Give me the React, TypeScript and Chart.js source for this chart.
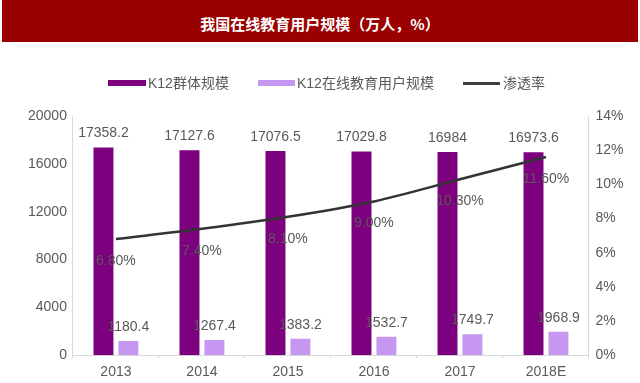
import React, { useEffect, useRef } from "react";
import { Chart, registerables } from "chart.js";

Chart.register(...registerables);

const categories = ["2013", "2014", "2015", "2016", "2017", "2018E"];
const k12Group = [17358.2, 17127.6, 17076.5, 17029.8, 16984, 16973.6];
const onlineUsers = [1180.4, 1267.4, 1383.2, 1532.7, 1749.7, 1968.9];
const penetration = [6.8, 7.4, 8.1, 9.0, 10.3, 11.6];
const leftTicks = [0, 4000, 8000, 12000, 16000, 20000];
const rightTicks = [0, 2, 4, 6, 8, 10, 12, 14];

const title = "我国在线教育用户规模（万人，%）";
const seriesNames = ["K12群体规模", "K12在线教育用户规模", "渗透率"];
const colors = ["#7d007f", "#c597f0", "#333333"];

const FONT = "'Liberation Sans', 'Noto Sans CJK SC', Arial, sans-serif";
const TEXT = "#595959";

const labelPlugin = {
  id: "valueLabels",
  afterDatasetsDraw(chart: any) {
    const ctx = chart.ctx;
    ctx.save();
    ctx.font = `14px ${FONT}`;
    ctx.fillStyle = TEXT;
    ctx.textAlign = "center";
    chart.data.datasets.forEach((ds: any, i: number) => {
      const meta = chart.getDatasetMeta(i);
      meta.data.forEach((el: any, j: number) => {
        const v = ds.data[j];
        if (ds.type === "line") {
          ctx.textBaseline = "middle";
          ctx.fillText(v.toFixed(2) + "%", el.x, el.y + 22);
        } else {
          ctx.textBaseline = "bottom";
          ctx.fillText(String(v), el.x, el.y - 7);
        }
      });
    });
    ctx.restore();
  },
};

export default function App() {
  const ref = useRef<HTMLCanvasElement>(null);
  useEffect(() => {
    if (!ref.current) return;
    const chart = new Chart(ref.current, {
      type: "bar",
      data: {
        labels: categories,
        datasets: [
          {
            type: "line",
            label: seriesNames[2],
            data: penetration,
            borderColor: colors[2],
            backgroundColor: colors[2],
            borderWidth: 2.5,
            pointRadius: 0,
            yAxisID: "y1",
            order: 0,
            cubicInterpolationMode: "monotone",
          } as any,
          {
            type: "bar",
            label: seriesNames[0],
            data: k12Group,
            backgroundColor: colors[0],
            yAxisID: "y",
            order: 1,
            categoryPercentage: 0.58,
            barPercentage: 0.8,
          },
          {
            type: "bar",
            label: seriesNames[1],
            data: onlineUsers,
            backgroundColor: colors[1],
            yAxisID: "y",
            order: 2,
            categoryPercentage: 0.58,
            barPercentage: 0.8,
          },
        ],
      },
      options: {
        animation: false,
        responsive: false,
        maintainAspectRatio: false,
        layout: { padding: { top: 116, left: 22, right: 10, bottom: -3 } },
        plugins: { legend: { display: false }, tooltip: { enabled: false } },
        scales: {
          x: {
            grid: {
              display: true,
              drawOnChartArea: false,
              drawTicks: true,
              tickLength: 3,
              offset: true,
              color: "#d9d9d9",
            },
            border: { color: "#d9d9d9" },
            ticks: { color: TEXT, font: { size: 14, family: FONT }, padding: 5.5 },
          },
          y: {
            position: "left",
            min: 0,
            max: 20000,
            afterBuildTicks: (s: any) => {
              s.ticks = leftTicks.map((v) => ({ value: v }));
            },
            grid: { display: false, drawTicks: false },
            border: { display: true, color: "#d9d9d9" },
            ticks: {
              color: TEXT,
              font: { size: 14, family: FONT },
              padding: 6,
              callback: (v: any) => String(v),
            },
          },
          y1: {
            position: "right",
            min: 0,
            max: 14,
            afterBuildTicks: (s: any) => {
              s.ticks = rightTicks.map((v) => ({ value: v }));
            },
            grid: { display: false, drawTicks: false },
            border: { display: true, color: "#d9d9d9" },
            ticks: {
              color: TEXT,
              font: { size: 14, family: FONT },
              padding: 6.5,
              callback: (v: any) => v + "%",
            },
          },
        },
      },
      plugins: [labelPlugin],
    });
    return () => chart.destroy();
  }, []);

  const legendText: React.CSSProperties = {
    position: "absolute",
    top: 74,
    fontFamily: FONT,
    fontSize: 14,
    color: TEXT,
    lineHeight: "18px",
    whiteSpace: "nowrap",
  };
  const box = (left: number, w: number, h: number, c: string, top: number): React.CSSProperties => ({
    position: "absolute",
    left,
    top,
    width: w,
    height: h,
    background: c,
  });

  return (
    <div style={{ position: "absolute", left: 0, top: 0, width: 640, height: 383, background: "#fff", overflow: "hidden" }}>
      <canvas ref={ref} width={640} height={383} style={{ position: "absolute", left: 0, top: 0, width: 640, height: 383 }} />
      <div
        style={{
          position: "absolute",
          left: 2,
          top: 0,
          width: 636,
          height: 42,
          background: "#9a0000",
          color: "#fff",
          fontFamily: "'Noto Sans CJK SC', sans-serif",
          fontWeight: 700,
          fontSize: 15,
          display: "flex",
          alignItems: "center",
          justifyContent: "center",
          paddingTop: 4,
          boxSizing: "border-box",
        }}
      >
        {title}
      </div>
      <div style={box(108, 38, 6, colors[0], 80)} />
      <div style={{ ...legendText, left: 148 }}>{seriesNames[0]}</div>
      <div style={box(258, 37, 6, colors[1], 80)} />
      <div style={{ ...legendText, left: 297 }}>{seriesNames[1]}</div>
      <div style={box(463, 37, 3, "#404040", 82)} />
      <div style={{ ...legendText, left: 503 }}>{seriesNames[2]}</div>
    </div>
  );
}
